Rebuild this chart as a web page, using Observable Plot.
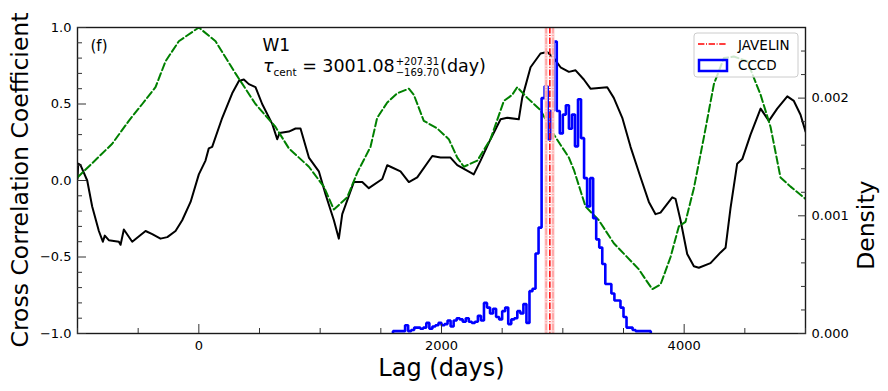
<!DOCTYPE html>
<html><head><meta charset="utf-8">
<script src="https://cdn.jsdelivr.net/npm/d3@7"></script>
<script src="https://cdn.jsdelivr.net/npm/@observablehq/plot@0.6"></script>
<style>
html,body{margin:0;padding:0;background:#fff;}
#chart svg{display:block;}
</style></head><body><div id="chart"></div>
<script>
// CCF (black solid)
const ccfLag = [-1000,-994,-975,-920,-879,-824,-791,-775,-742,-659,-645,-618,-549,-439,-384,-316,-260,-192,-137,-68,0,55,82,110,193,275,330,371,412,467,522,605,646,665,742,797,838,907,989,1044,1113,1154,1182,1278,1347,1401,1512,1553,1580,1662,1731,1800,1924,1992,2074,2130,2266,2322,2404,2487,2542,2637,2665,2734,2816,2871,2926,2981,3050,3105,3173,3228,3366,3420,3490,3558,3641,3709,3764,3805,3902,3929,3970,4025,4080,4121,4217,4300,4341,4382,4437,4479,4547,4630,4698,4767,4850,4904,4959,5000];
const ccfR = [0.01,0.11,0.10,0.0,-0.17,-0.33,-0.40,-0.36,-0.39,-0.40,-0.42,-0.32,-0.40,-0.33,-0.35,-0.38,-0.37,-0.33,-0.26,-0.14,0.04,0.13,0.21,0.22,0.41,0.57,0.65,0.66,0.63,0.61,0.50,0.37,0.27,0.31,0.32,0.34,0.34,0.15,0.06,-0.09,-0.26,-0.38,-0.22,-0.01,-0.01,-0.05,0.01,0.10,0.09,0.06,-0.01,0.02,0.16,0.15,0.15,0.10,0.04,0.13,0.27,0.40,0.41,0.40,0.54,0.74,0.83,0.84,0.80,0.74,0.71,0.72,0.66,0.60,0.61,0.54,0.41,0.22,0.02,-0.14,-0.22,-0.21,-0.11,-0.12,-0.26,-0.48,-0.56,-0.57,-0.54,-0.47,-0.44,-0.18,0.11,0.14,0.30,0.47,0.39,0.47,0.55,0.52,0.43,0.32];
// ACF (green dashed)
const acfLag = [-1000,-714,-577,-466,-357,-274,-165,0,138,302,467,632,742,907,1030,1113,1223,1305,1415,1470,1553,1635,1731,1772,1854,1965,2060,2130,2184,2295,2404,2514,2583,2624,2707,2816,2926,3050,3091,3187,3297,3420,3626,3668,3737,3805,3888,3956,4011,4080,4162,4245,4327,4409,4520,4630,4712,4794,4877,5000];
const acfR = [0.02,0.24,0.39,0.50,0.61,0.78,0.91,1.00,0.91,0.70,0.50,0.35,0.21,0.09,-0.04,-0.19,-0.11,0.05,0.22,0.41,0.51,0.57,0.60,0.56,0.39,0.34,0.27,0.15,0.09,0.13,0.27,0.52,0.56,0.61,0.54,0.46,0.30,0.15,0.07,-0.17,-0.26,-0.41,-0.58,-0.63,-0.71,-0.68,-0.50,-0.30,-0.27,-0.05,0.28,0.63,0.80,0.81,0.78,0.56,0.35,0.02,-0.04,-0.12];
// CCCD histogram (density, in units of 1e-3), bins of 25 days from 1600
const cccdStart = 1600, cccdWidth = 25;
const cccdDensity = [0.02,0.02,0.02,0.02,0.07,0.02,0.03,0.05,0.05,0.04,0.05,0.09,0.04,0.06,0.07,0.09,0.07,0.08,0.11,0.06,0.11,0.13,0.12,0.10,0.13,0.10,0.09,0.10,0.15,0.11,0.26,0.22,0.17,0.21,0.14,0.12,0.19,0.22,0.08,0.12,0.13,0.19,0.17,0.25,0.09,0.36,0.38,0.68,0.90,2.00,2.10,1.65,1.89,2.48,1.89,1.70,1.86,1.94,1.74,1.86,1.59,1.99,1.66,1.32,1.08,1.32,0.98,0.80,0.73,0.59,0.42,0.42,0.34,0.28,0.28,0.22,0.14,0.05,0.05,0.03,0.02,0.02,0.02,0.02,0.02];
// JAVELIN lag and bounds
const javelinCenter = 2893, javelinBounds = [2862, 2919];
// ticks
const xTicksMajor = [0, 2000, 4000];
const yTicksMajor = [-1, -0.5, 0, 0.5, 1];
const densityTicks = [0, 1, 2];     // ×1e-3
const densityMax = 2.6;             // ×1e-3, top of right axis

(function () {
const toY = d => -1 + 2 * d / densityMax;
const ccf = ccfLag.map((x, i) => ({x, y: ccfR[i]}));
const acf = acfLag.map((x, i) => ({x, y: acfR[i]}));
const hist = [{x: cccdStart, y: toY(0)}];
cccdDensity.forEach((d, i) => hist.push({x: cccdStart + i * cccdWidth, y: toY(d)}));
const histEnd = cccdStart + cccdDensity.length * cccdWidth;
hist.push({x: histEnd, y: toY(cccdDensity[cccdDensity.length - 1])});
hist.push({x: histEnd, y: toY(0)});

const xMinor = d3.range(-1000, 5001, 500).filter(v => !xTicksMajor.includes(v));
const yMinor = d3.range(-10, 11).map(v => v / 10).filter(v => !yTicksMajor.some(t => Math.abs(t - v) < 1e-9));
const dMinor = d3.range(1, 13).map(v => v * 0.2).filter(v => Math.abs(v - Math.round(v)) > 1e-9);
const none = () => "";

const font = "DejaVu Sans";
const chart = Plot.plot({
  width: 888, height: 391,
  marginLeft: 77, marginRight: 83, marginTop: 27, marginBottom: 58,
  style: {fontFamily: font, fontSize: "13px", background: "white", color: "black"},
  x: {domain: [-1000, 5000], axis: null},
  y: {domain: [-1, 1], axis: null},
  marks: [
    Plot.line(ccf, {x: "x", y: "y", stroke: "black", strokeWidth: 2, clip: true}),
    Plot.line(acf, {x: "x", y: "y", stroke: "#008000", strokeWidth: 2, strokeDasharray: "7.4,3.2", clip: true}),
    Plot.line(hist, {x: "x", y: "y", curve: "step-after", stroke: "#0000ff", strokeWidth: 2.6, strokeLinejoin: "miter", clip: true}),
    Plot.ruleX(javelinBounds, {stroke: "#ffd2d2", strokeWidth: 3.2}),
    Plot.ruleX(javelinBounds, {stroke: "#ff8080", strokeWidth: 1, strokeDasharray: "6.4,1.6,1,1.6"}),
    Plot.ruleX([javelinCenter], {stroke: "#ff0000", strokeWidth: 1.5, strokeDasharray: "6.4,1.6,1,1.6"}),
    Plot.frame({stroke: "#1a1a1a", strokeWidth: 1.4}),
    // bottom axis
    Plot.axisX(xMinor, {anchor: "bottom", tickSize: -5, tickFormat: none, label: null, stroke: "#333"}),
    Plot.axisX(xTicksMajor, {anchor: "bottom", tickSize: -9, tickFormat: none, label: null, stroke: "#333"}),
    Plot.axisX(xTicksMajor, {anchor: "bottom", tickSize: 0, tickPadding: 7, label: null, tickFormat: d => String(d), fontSize: 13}),
    // left axis
    Plot.axisY(yMinor, {anchor: "left", tickSize: -5, tickFormat: none, label: null, stroke: "#333"}),
    Plot.axisY(yTicksMajor, {anchor: "left", tickSize: -9, tickFormat: none, label: null, stroke: "#333"}),
    Plot.axisY(yTicksMajor, {anchor: "left", tickSize: 0, tickPadding: 6, label: null, tickFormat: d3.format(".1f"), fontSize: 13}),
    // right (density) axis
    Plot.axisY(dMinor.map(toY), {anchor: "right", tickSize: -5, tickFormat: none, label: null, stroke: "#333"}),
    Plot.axisY(densityTicks.map(toY), {anchor: "right", tickSize: -8, tickFormat: none, label: null, stroke: "#333"}),
    Plot.axisY(densityTicks.map(toY), {anchor: "right", tickSize: 0, tickPadding: 6, label: null,
      tickFormat: y => ((y + 1) * densityMax / 2 / 1000).toFixed(3), fontSize: 13}),
    // axis titles
    Plot.text(["Lag (days)"], {frameAnchor: "bottom", text: d => d, dy: 42, lineAnchor: "bottom", fontSize: 24}),
    Plot.text(["Density"], {frameAnchor: "right", text: d => d, rotate: -90, dx: 52, lineAnchor: "top", fontSize: 23.5}),
    // annotations
    Plot.text(["(f)"], {frameAnchor: "top-left", text: d => d, dx: 13, dy: 23, lineAnchor: "bottom", textAnchor: "start", fontSize: 15}),
    Plot.text(["W1"], {frameAnchor: "top-left", text: d => d, dx: 185, dy: 23, lineAnchor: "bottom", textAnchor: "start", fontSize: 17})
  ]
});
document.getElementById("chart").appendChild(chart);

const svg = d3.select(chart);
const xs = chart.scale("x"), ys = chart.scale("y");
const fLeft = Math.min(...xs.range), fRight = Math.max(...xs.range);
const fTop = Math.min(...ys.range), fBottom = Math.max(...ys.range);

// left axis title
svg.append("text").attr("font-family", font).attr("font-size", 23.5).attr("text-anchor", "middle")
  .attr("transform", `translate(${fLeft - 49},${(fTop + fBottom) / 2}) rotate(-90)`)
  .text("Cross Correlation Coefficient");

// tau annotation with super/subscripts
const g = svg.append("g").attr("font-family", font).attr("fill", "black").attr("text-anchor", "start");
const x0 = fLeft + 186, base = fTop + 45;
const main = g.append("text").attr("x", x0).attr("y", base).attr("font-size", 17.5);
main.append("tspan").attr("font-style", "italic").text("τ");
main.append("tspan").attr("font-size", 10.5).attr("dy", 4).text("cent");
main.append("tspan").attr("dy", -4).text(" = 3001.08");
const w = main.node().getComputedTextLength();
const sx = x0 + w + 1;
const sup = g.append("text").attr("x", sx).attr("y", base - 7.5).attr("font-size", 10).text("+207.31");
const sub = g.append("text").attr("x", sx).attr("y", base + 4).attr("font-size", 10).text("−169.70");
const sw = Math.max(sup.node().getComputedTextLength(), sub.node().getComputedTextLength());
g.append("text").attr("x", sx + sw + 1).attr("y", base).attr("font-size", 17.5).text("(day)");

// legend
const lg = svg.append("g").attr("font-family", font).attr("text-anchor", "start");
lg.append("rect").attr("x", fRight - 111).attr("y", fTop + 6).attr("width", 104).attr("height", 44).attr("rx", 3)
  .attr("fill", "white").attr("fill-opacity", 0.8).attr("stroke", "#cccccc");
lg.append("line").attr("x1", fRight - 107).attr("x2", fRight - 78).attr("y1", fTop + 17).attr("y2", fTop + 17)
  .attr("stroke", "#ff0000").attr("stroke-width", 1.5).attr("stroke-dasharray", "6.4,1.6,1,1.6");
lg.append("text").attr("x", fRight - 67).attr("y", fTop + 23).attr("font-size", 13.5).text("JAVELIN");
lg.append("rect").attr("x", fRight - 106).attr("y", fTop + 33).attr("width", 28).attr("height", 11)
  .attr("fill", "none").attr("stroke", "#0000ff").attr("stroke-width", 2.5);
lg.append("text").attr("x", fRight - 67).attr("y", fTop + 43).attr("font-size", 13.5).text("CCCD");
})();
</script>
</body></html>
